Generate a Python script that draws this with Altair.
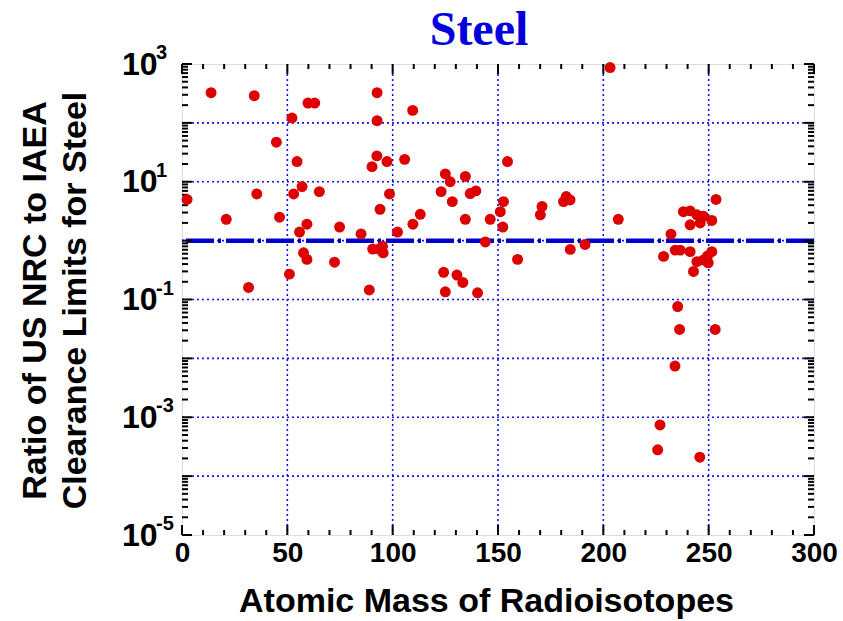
import altair as alt
import pandas as pd

# ---- data ----
mass = [13.8, 34.3, 44.8, 52.2, 59.8, 63.0, 92.6, 92.6, 109.5, 203.2, 154.5,
        54.6, 92.5, 90.2, 97.3, 105.7, 125.0, 127.3, 134.5,
        2.4, 21.0, 35.5, 46.3, 53.0, 57.0, 65.2, 55.8, 59.3, 74.8, 85.0, 94.0,
        98.5, 102.3, 109.6, 113.1, 123.0, 128.3, 136.8, 139.5, 134.5, 146.3,
        151.1, 152.6, 152.3, 170.1, 170.9, 181.1, 182.4, 184.2, 207.1, 253.5,
        238.0, 241.2, 244.4, 247.5, 251.5, 241.2, 246.0, 232.1,
        144.0, 90.5, 93.5, 95.2, 95.5, 57.7, 59.3, 72.4, 51.0, 31.6, 88.9,
        124.2, 130.5, 133.3, 125.0, 140.3, 159.3, 184.3, 191.3,
        228.6, 234.1, 236.5, 241.2, 251.5, 249.5, 247.5, 244.4, 242.8, 249.8,
        235.3, 236.2, 253.1, 234.0, 226.9, 225.8, 245.8]
ratio = [325, 290, 47, 121, 217, 217, 325, 109, 163, 870, 22,
         22, 27.5, 18, 22, 24, 13.6, 10, 12.3,
         5.0, 2.3, 6.2, 2.5, 6.2, 8.3, 6.8, 1.4, 1.9, 1.7, 1.3, 3.4,
         6.2, 1.4, 1.9, 2.8, 6.8, 4.6, 6.3, 7.0, 2.3, 2.3,
         3.1, 4.6, 1.7, 2.75, 3.8, 4.6, 5.6, 4.9, 2.3, 5.0,
         3.1, 3.2, 2.75, 2.6, 2.2, 1.86, 2.0, 1.29,
         0.95, 0.72, 0.72, 0.80, 0.62, 0.62, 0.48, 0.43, 0.27, 0.16, 0.145,
         0.29, 0.26, 0.195, 0.135, 0.13, 0.48, 0.71, 0.86,
         0.54, 0.69, 0.69, 0.65, 0.65, 0.55, 0.47, 0.44, 0.30, 0.42,
         0.076, 0.031, 0.031, 0.0074, 7.4e-4, 2.8e-4, 2.1e-4]

clearance_ratio = [1.0]

x_major = [0, 50, 100, 150, 200, 250, 300]
x_minor = [v for v in range(0, 301, 10) if v % 50 != 0]
x_grid = [50, 100, 150, 200, 250]
y_decades = [1e-5, 1e-4, 1e-3, 1e-2, 1e-1, 1, 10, 100, 1000]
y_labels = ["10", "", "10", "", "10", "", "10", "", "10"]
y_label_vals = [1e-5, 1e-3, 1e-1, 10, 1000]
y_exponents = ["-5", "-3", "-1", "1", "3"]
y_grid = [1e-4, 1e-3, 1e-2, 1e-1, 1, 10, 100]
y_minor = [m * d for d in y_decades[:-1] for m in range(2, 10)]
title_text = ["Steel"]

W, H = 632, 471
FONT = "Liberation Sans"

label_expr = ""
for v, lab in zip(y_decades, y_labels):
    label_expr += f"datum.value < {v * 3} ? '{lab}' : "
label_expr += "''"

x_scale = alt.Scale(domain=[0, 300], nice=False, zero=False)
y_scale = alt.Scale(type="log", domain=[1e-5, 1e3], nice=False)

x_axis = alt.Axis(values=x_major, grid=False, ticks=False, tickSize=0, domain=False,
                  labelFont=FONT, labelFontSize=28, labelFontWeight="bold", labelColor="black",
                  labelPadding=4, labelFlush=False, labelOverlap=False,
                  titleFont=FONT, titleFontSize=34, titleFontWeight="bold", titleColor="black",
                  titleX=304, titleY=76, titleAlign="center", titleBaseline="alphabetic")
y_axis = alt.Axis(values=y_decades, labelExpr=label_expr, grid=False, ticks=False, tickSize=0,
                  domain=False, labelFont=FONT, labelFontSize=32, labelFontWeight="bold",
                  labelColor="black", labelPadding=25, labelOverlap=False, labelFlush=False,
                  titleFont=FONT, titleFontSize=34, titleFontWeight="bold", titleColor="black",
                  titleAngle=270, titleX=-147, titleY=236, titleAlign="center",
                  titleBaseline="middle", titleLineHeight=40)

X_TITLE = "Atomic Mass of Radioisotopes"
Y_TITLE = ["Ratio of US NRC to IAEA", "Clearance Limits for Steel"]


def xenc():
    return alt.X("mass:Q", scale=x_scale, axis=x_axis, title=X_TITLE)


def yenc():
    return alt.Y("ratio:Q", scale=y_scale, axis=y_axis, title=Y_TITLE)


pts = pd.DataFrame({"mass": mass, "ratio": ratio})

grid_x = alt.Chart(pd.DataFrame({"mass": x_grid})).mark_rule(
    color="#1010ff", strokeWidth=1.6, strokeDash=[2, 3]).encode(x=xenc())
grid_y = alt.Chart(pd.DataFrame({"ratio": y_grid})).mark_rule(
    color="#1010ff", strokeWidth=1.6, strokeDash=[2, 3]).encode(y=yenc())

ref_line = alt.Chart(pd.DataFrame({"ratio": clearance_ratio})).mark_rule(
    color="#0000cc", strokeWidth=4.5, strokeDash=[28, 5, 3, 4]).encode(y=yenc())


def xticks(vals, length):
    d = pd.DataFrame({"mass": vals})
    b = alt.Chart(d).mark_rule(color="black", strokeWidth=2).encode(
        x=xenc(), y=alt.value(H), y2=alt.value(H - length))
    t = alt.Chart(d).mark_rule(color="black", strokeWidth=2).encode(
        x=xenc(), y=alt.value(0), y2=alt.value(length))
    return [b, t]


def yticks(vals, length):
    d = pd.DataFrame({"ratio": vals})
    l = alt.Chart(d).mark_rule(color="black", strokeWidth=2).encode(
        y=yenc(), x=alt.value(0), x2=alt.value(length))
    r = alt.Chart(d).mark_rule(color="black", strokeWidth=2).encode(
        y=yenc(), x=alt.value(W), x2=alt.value(W - length))
    return [l, r]


exponents = alt.Chart(pd.DataFrame({"ratio": y_label_vals, "exp": y_exponents})).mark_text(
    font=FONT, fontSize=20, fontWeight="bold", color="black", align="left",
    baseline="middle", dy=-11).encode(y=yenc(), x=alt.value(-26), text="exp:N")

title = alt.Chart(pd.DataFrame({"t": title_text})).mark_text(
    font="Liberation Serif", fontSize=48, fontWeight="bold", color="#0000dd",
    align="center", baseline="alphabetic").encode(
    text="t:N", x=alt.value(297), y=alt.value(-19))

points = alt.Chart(pts).mark_circle(size=120, color="#dd0000", opacity=1).encode(
    x=xenc(), y=yenc())

layers = [grid_x, grid_y, ref_line] + xticks(x_major, 10) + xticks(x_minor, 5) \
    + yticks(y_decades, 10) + yticks(y_minor, 6) + [points, exponents, title]

chart = alt.layer(*layers).properties(
    width=W, height=H,
    autosize=alt.AutoSizeParams(type="none"),
    padding={"left": 182, "top": 64, "right": 29, "bottom": 86},
).configure_view(stroke="black", strokeWidth=2.5).configure(background="white")

chart.save("out.html", embed_options={"renderer": "svg", "actions": False})
